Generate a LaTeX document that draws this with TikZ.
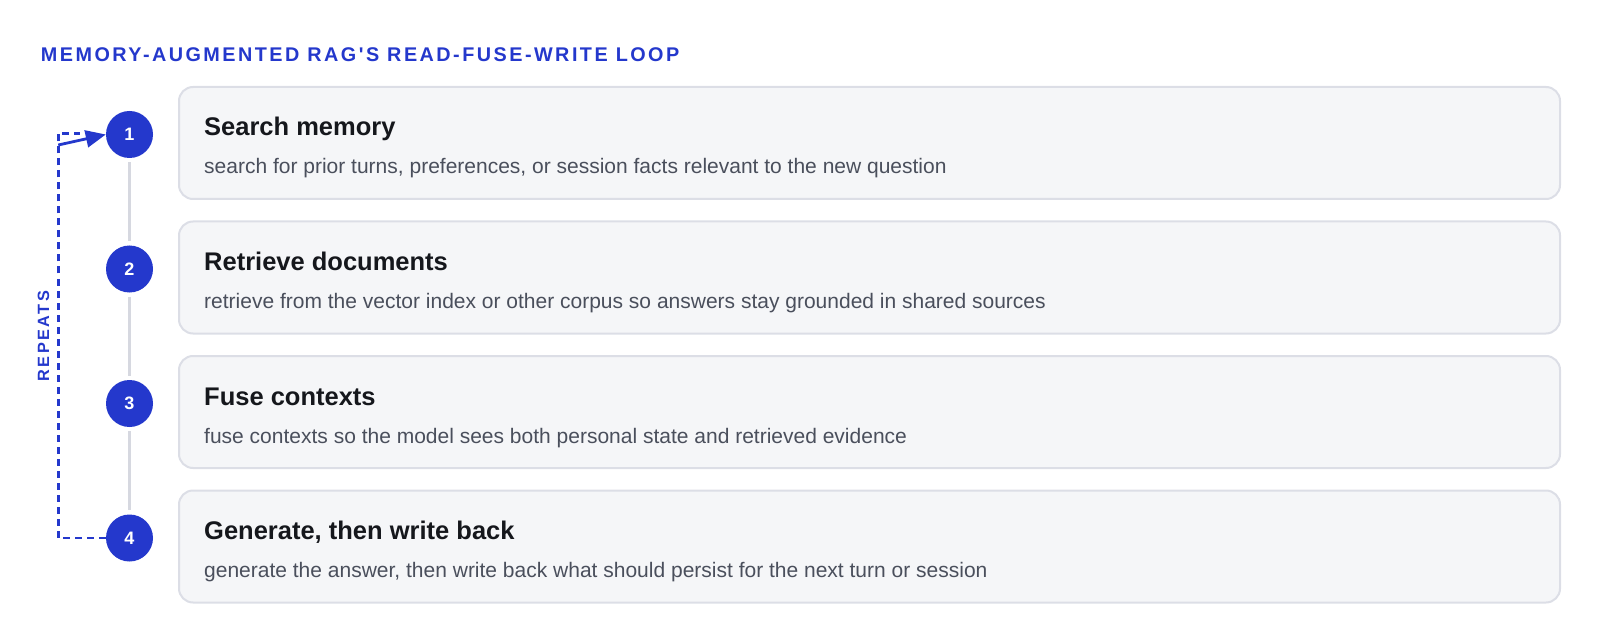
\documentclass[tikz,border=0pt]{standalone}
\usepackage{fontspec}
\setmainfont{Liberation Sans}
\newfontfamily\spacedfont[LetterSpace=12.5,Ligatures=TeXOff]{Liberation Sans}
\newfontfamily\spacedfontB[LetterSpace=15,Ligatures=TeXOff]{Liberation Sans}
\usetikzlibrary{arrows.meta,calc}
\definecolor{brandblue}{HTML}{2438CC}
\definecolor{boxfill}{HTML}{F5F6F8}
\definecolor{boxborder}{HTML}{DCDEE6}
\definecolor{headcol}{HTML}{15171C}
\definecolor{subcol}{HTML}{4A4F5C}
\definecolor{railgray}{HTML}{D6D8E0}
\begin{document}
\begin{tikzpicture}[x=1pt,y=-1pt,
  stepbox/.style={draw=boxborder, fill=boxfill, line width=2pt, rounded corners=14pt,
    minimum width=1381pt, minimum height=112pt, anchor=north west, inner sep=0pt, outer sep=0pt},
  numdot/.style={circle, fill=brandblue, minimum size=47pt, inner sep=0pt, text=white,
    font=\fontsize{18}{18}\selectfont\bfseries},
  headtext/.style={anchor=base west, inner sep=0pt, text=headcol, font=\fontsize{25.5}{30}\selectfont\bfseries},
  subtext/.style={anchor=base west, inner sep=0pt, text=subcol, font=\fontsize{21}{25}\selectfont},
  rail/.style={draw=railgray, line width=3.3pt, shorten <=4pt, shorten >=4pt},
  loopline/.style={draw=brandblue, line width=2.8pt, dash pattern=on 7pt off 5pt},
  looparrow/.style={draw=brandblue, line width=2.8pt, -{Triangle[length=20pt,width=17pt]}}
]
\useasboundingbox (0,0) rectangle (1600,644);

\node[anchor=base west, inner sep=0pt, text=brandblue,
  font=\spacedfont\fontsize{19.8}{20}\selectfont\bfseries] (title) at (40.7,61.7)
  {MEMORY-AUGMENTED RAG'S READ-FUSE-WRITE LOOP};

\foreach \i/\head/\sub in {
  1/{Search memory}/{search for prior turns, preferences, or session facts relevant to the new question},
  2/{Retrieve documents}/{retrieve from the vector index or other corpus so answers stay grounded in shared sources},
  3/{Fuse contexts}/{fuse contexts so the model sees both personal state and retrieved evidence},
  4/{Generate, then write back}/{generate the answer, then write back what should persist for the next turn or session}}{
  \pgfmathsetmacro\toprow{87+134.5*(\i-1)}
  \node[stepbox] (b\i) at (179,\toprow) {};
  \node[numdot] (c\i) at (129.5,\toprow+47.5) {\i};
  \node[headtext] (h\i) at (204,\toprow+49) {\head};
  \node[subtext] (s\i) at (204,\toprow+87) {\sub};
}

\draw[rail] (c1) -- (c2);
\draw[rail] (c2) -- (c3);
\draw[rail] (c3) -- (c4);

\coordinate (loopcorner) at (58.3,133.5);
\coordinate (loopend) at (80,133.5);
\coordinate (arrowstart) at (58.3,145);
\draw[loopline] (c4.west) -| (loopcorner) -- (loopend);
\draw[looparrow] (arrowstart) -- (c1.west);

\node[rotate=90, inner sep=0pt, text=brandblue,
  font=\spacedfontB\fontsize{16.3}{17}\selectfont\bfseries] (repeats) at (43.5,336) {REPEATS};
\end{tikzpicture}
\end{document}
